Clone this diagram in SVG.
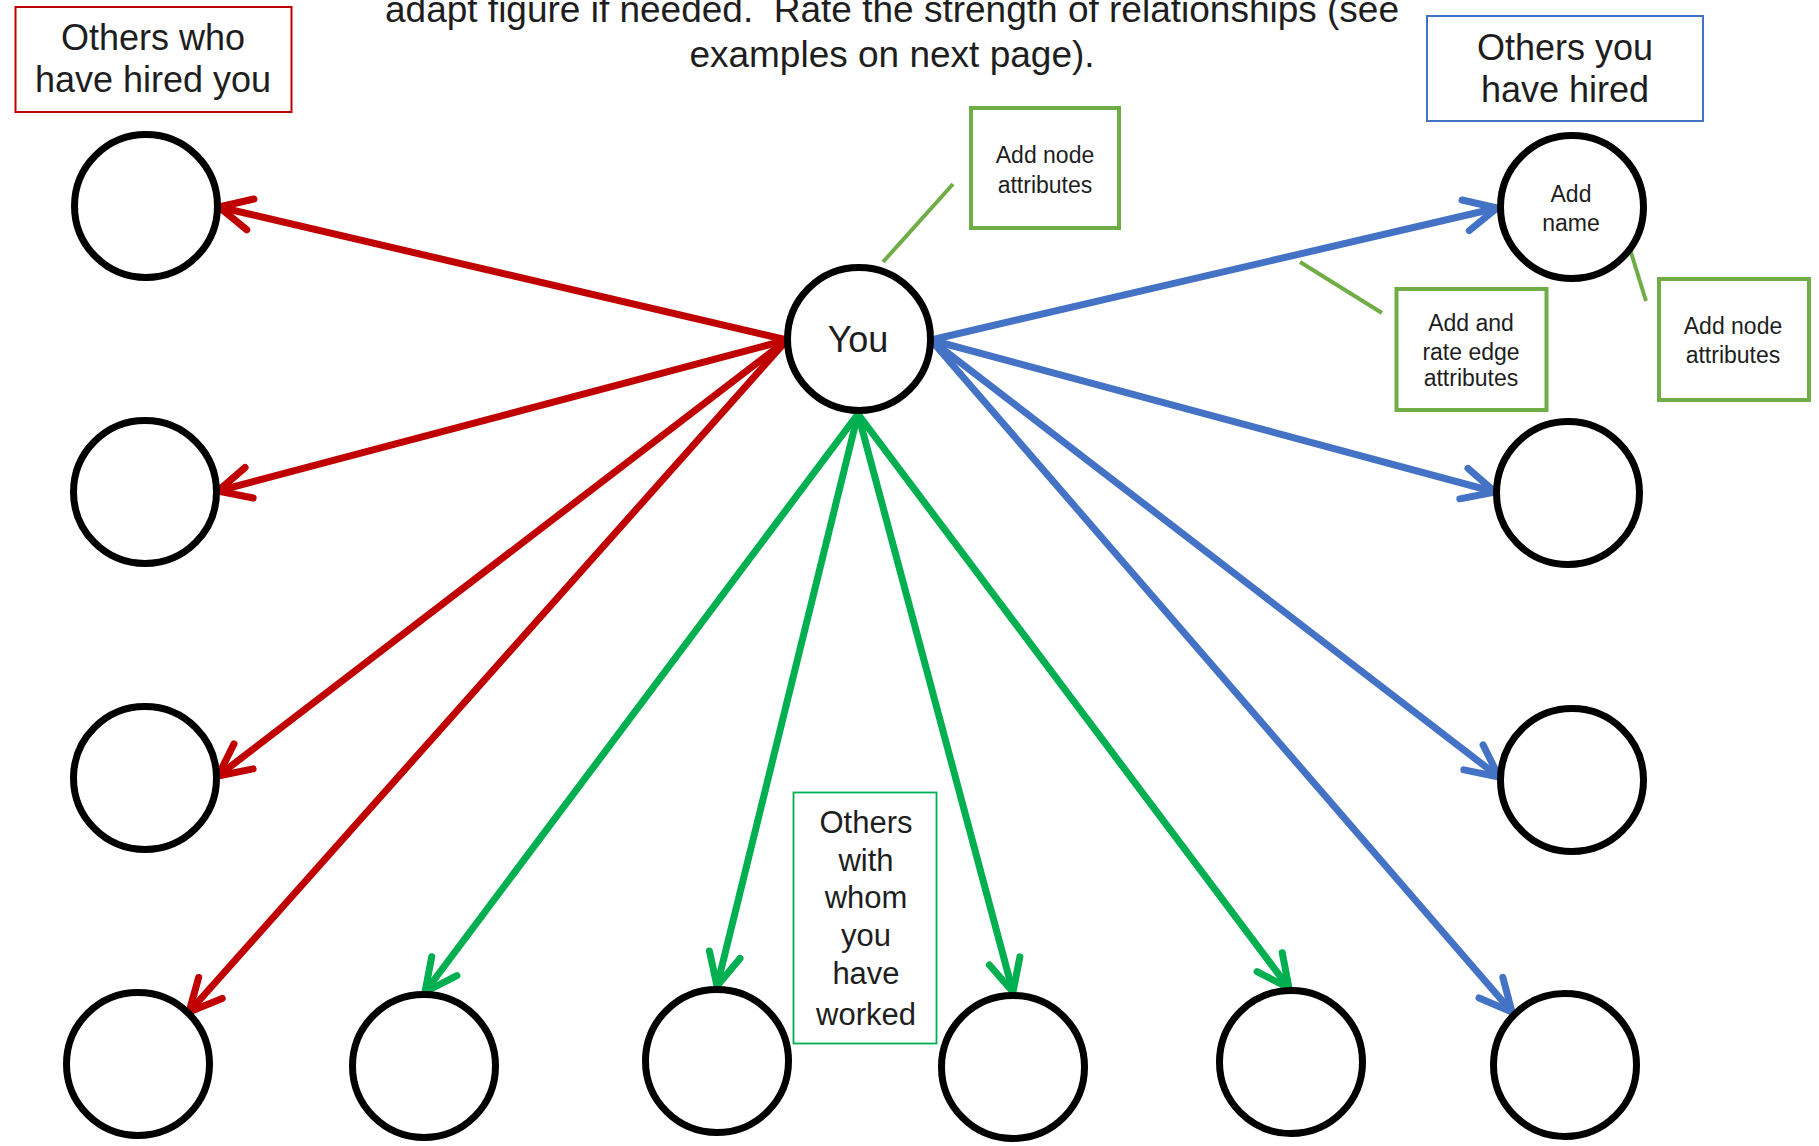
<svg xmlns="http://www.w3.org/2000/svg" width="1819" height="1146" viewBox="0 0 1819 1146">
  <style>
    .t { font-family: "Liberation Sans", Arial, sans-serif; fill: #1e1e1e; text-anchor: middle; }
    .node { fill: #ffffff; stroke: #000000; stroke-width: 7; }
    .red { stroke: #c00000; stroke-width: 7; fill: none; marker-end: url(#ah-red); }
    .grn { stroke: #00b050; stroke-width: 7; fill: none; marker-end: url(#ah-grn); }
    .blu { stroke: #4472c4; stroke-width: 7; fill: none; marker-end: url(#ah-blu); }
    .note { fill: #ffffff; stroke: #70ad47; stroke-width: 4; }
    .lead { stroke: #70ad47; stroke-width: 4; fill: none; }
  </style>
  <defs>
    <marker id="ah-red" markerUnits="strokeWidth" orient="auto" overflow="visible" markerWidth="1" markerHeight="1" refX="0" refY="0">
      <path d="M-4.6,-2.25 L0,0 L-4.6,2.25" fill="none" stroke="#c00000" stroke-width="1" stroke-linecap="round" stroke-linejoin="round"/>
    </marker>
    <marker id="ah-grn" markerUnits="strokeWidth" orient="auto" overflow="visible" markerWidth="1" markerHeight="1" refX="0" refY="0">
      <path d="M-4.6,-2.25 L0,0 L-4.6,2.25" fill="none" stroke="#00b050" stroke-width="1" stroke-linecap="round" stroke-linejoin="round"/>
    </marker>
    <marker id="ah-blu" markerUnits="strokeWidth" orient="auto" overflow="visible" markerWidth="1" markerHeight="1" refX="0" refY="0">
      <path d="M-4.6,-2.25 L0,0 L-4.6,2.25" fill="none" stroke="#4472c4" stroke-width="1" stroke-linecap="round" stroke-linejoin="round"/>
    </marker>
  </defs>

  <rect width="1819" height="1146" fill="#ffffff"/>

  <g id="title">
    <text class="t" font-size="37" x="892" y="22">adapt figure if needed.&#160; Rate the strength of relationships (see</text>
    <text class="t" font-size="37" x="892" y="67">examples on next page).</text>
  </g>

  <g id="label-hired-you">
    <rect x="15.5" y="7" width="276" height="105" fill="#ffffff" stroke="#c00000" stroke-width="2"/>
    <text class="t" font-size="36" x="153" y="50">Others who</text>
    <text class="t" font-size="36" x="153" y="92">have hired you</text>
  </g>

  <g id="label-you-hired">
    <rect x="1427" y="16" width="276" height="105" fill="#ffffff" stroke="#4472c4" stroke-width="2"/>
    <text class="t" font-size="36" x="1565" y="60">Others you</text>
    <text class="t" font-size="36" x="1565" y="102">have hired</text>
  </g>

  <g id="connectors">
    <line class="red" x1="787" y1="340" x2="219" y2="207"/>
    <line class="red" x1="787" y1="340" x2="218" y2="491"/>
    <line class="red" x1="787" y1="340" x2="218" y2="776"/>
    <line class="red" x1="787" y1="340" x2="189" y2="1012"/>
    <line class="grn" x1="858" y1="414" x2="425" y2="992"/>
    <line class="grn" x1="858" y1="414" x2="717" y2="986"/>
    <line class="grn" x1="858" y1="414" x2="1013" y2="992"/>
    <line class="grn" x1="858" y1="414" x2="1289" y2="988"/>
    <line class="blu" x1="931" y1="340" x2="1497" y2="208"/>
    <line class="blu" x1="931" y1="340" x2="1495" y2="492"/>
    <line class="blu" x1="931" y1="340" x2="1499" y2="777"/>
    <line class="blu" x1="931" y1="340" x2="1512" y2="1012"/>
    <line class="lead" x1="953" y1="184" x2="883" y2="262"/>
    <line class="lead" x1="1300" y1="262" x2="1382" y2="313"/>
    <line class="lead" x1="1629" y1="246" x2="1646" y2="301"/>
  </g>

  <g id="node-you">
    <circle class="node" cx="859" cy="339" r="71.5"/>
    <text class="t" font-size="36" x="858" y="352">You</text>
  </g>

  <g id="node-l1"><circle class="node" cx="146" cy="206" r="71.5"/></g>
  <g id="node-l2"><circle class="node" cx="145" cy="492" r="71.5"/></g>
  <g id="node-l3"><circle class="node" cx="145" cy="778" r="71.5"/></g>
  <g id="node-l4"><circle class="node" cx="138" cy="1064" r="71.5"/></g>
  <g id="node-b1"><circle class="node" cx="424" cy="1066" r="71.5"/></g>
  <g id="node-b2"><circle class="node" cx="717" cy="1061" r="71.5"/></g>
  <g id="node-b3"><circle class="node" cx="1013" cy="1067" r="71.5"/></g>
  <g id="node-b4"><circle class="node" cx="1291" cy="1062" r="71.5"/></g>
  <g id="node-b5"><circle class="node" cx="1565" cy="1065" r="71.5"/></g>
  <g id="node-r1">
    <circle class="node" cx="1572" cy="207" r="71.5"/>
    <text class="t" font-size="23" x="1571" y="202">Add</text>
    <text class="t" font-size="23" x="1571" y="231">name</text>
  </g>
  <g id="node-r2"><circle class="node" cx="1568" cy="493" r="71.5"/></g>
  <g id="node-r3"><circle class="node" cx="1572" cy="780" r="71.5"/></g>

  <g id="note-you-attrs">
    <rect class="note" x="971" y="108" width="148" height="120"/>
    <text class="t" font-size="23" x="1045" y="163">Add node</text>
    <text class="t" font-size="23" x="1045" y="193">attributes</text>
  </g>

  <g id="note-edge-attrs">
    <rect class="note" x="1396.5" y="289" width="150" height="121"/>
    <text class="t" font-size="23" x="1471" y="331">Add and</text>
    <text class="t" font-size="23" x="1471" y="360">rate edge</text>
    <text class="t" font-size="23" x="1471" y="386">attributes</text>
  </g>

  <g id="note-node-attrs">
    <rect class="note" x="1659" y="279" width="150" height="121"/>
    <text class="t" font-size="23" x="1733" y="334">Add node</text>
    <text class="t" font-size="23" x="1733" y="363">attributes</text>
  </g>

  <g id="label-worked">
    <rect x="793.5" y="792.5" width="143" height="251" fill="#ffffff" stroke="#00b050" stroke-width="1.8"/>
    <text class="t" font-size="31" x="866" y="833">Others</text>
    <text class="t" font-size="31" x="866" y="871">with</text>
    <text class="t" font-size="31" x="866" y="908">whom</text>
    <text class="t" font-size="31" x="866" y="946">you</text>
    <text class="t" font-size="31" x="866" y="984">have</text>
    <text class="t" font-size="31" x="866" y="1025">worked</text>
  </g>
</svg>
